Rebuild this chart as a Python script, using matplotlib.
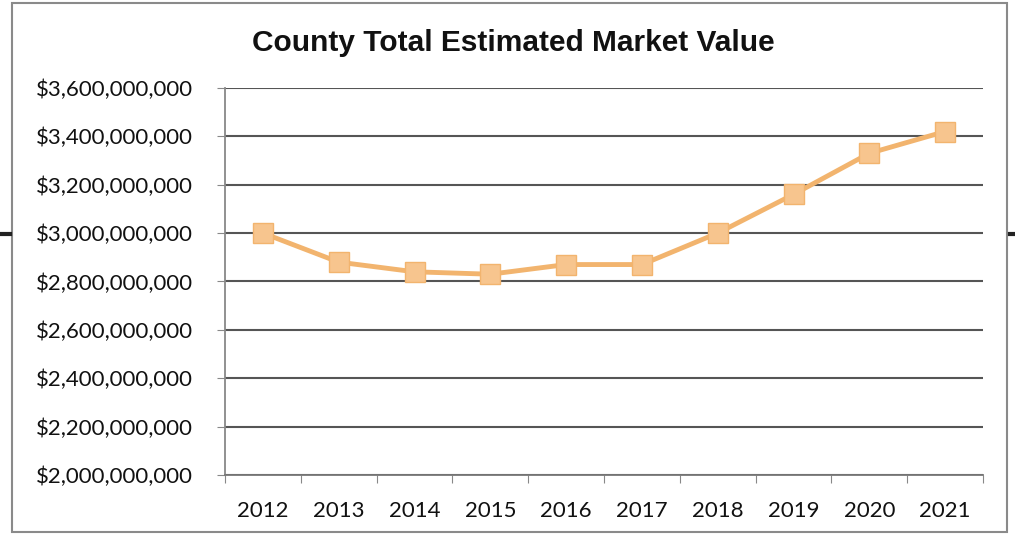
import numpy as np
import matplotlib.pyplot as plt
from matplotlib.patches import Rectangle
from matplotlib.ticker import FuncFormatter, MultipleLocator

# valeurs estimees du marche, par annee
years = ["2012", "2013", "2014", "2015", "2016", "2017", "2018", "2019", "2020", "2021"]
market_value = [3.00e9, 2.88e9, 2.84e9, 2.83e9, 2.87e9, 2.87e9, 3.00e9, 3.16e9, 3.33e9, 3.42e9]

fig = plt.figure(figsize=(10.15, 5.4), dpi=100)
ax = fig.add_axes([0.2217, 0.1204, 0.7468, 0.7167])

x = np.arange(len(years))
ax.plot(x, market_value, color="#F2B46E", lw=3.5, zorder=3,
        marker="s", markersize=14, markerfacecolor="#F7C58E",
        markeredgecolor="#F2B46E", markeredgewidth=1)

# axe Y : 2 a 3.6 milliards, pas de 200 millions
ax.set_ylim(2.0e9, 3.6e9)
ax.yaxis.set_major_locator(MultipleLocator(2e8))
ax.yaxis.set_major_formatter(FuncFormatter(lambda v, p: "${:,.0f}".format(v)))
ax.grid(axis="y", color="#555555", lw=1.5)
ax.set_axisbelow(True)

# axe X : categories, graduations entre les annees
ax.set_xlim(-0.5, len(years) - 0.5)
ax.set_xticks(np.arange(-0.5, len(years)), minor=False)
ax.set_xticklabels([])
ax.set_xticks(x, minor=True)
ax.set_xticklabels(years, minor=True)
ax.tick_params(axis="x", which="major", length=6, color="#888888", direction="out")
ax.tick_params(axis="x", which="minor", length=0, pad=19)
ax.tick_params(axis="y", length=6, color="#888888", pad=17)

for lab in ax.get_xticklabels(minor=True) + ax.get_yticklabels():
    lab.set_fontfamily("Lato")
    lab.set_fontsize(16)
    lab.set_color("#111111")

for side in ["top", "right"]:
    ax.spines[side].set_visible(False)
ax.spines["left"].set_color("#888888")
ax.spines["bottom"].set_color("#777777")
ax.spines["left"].set_linewidth(1.3)
ax.spines["bottom"].set_linewidth(1.3)

fig.text(0.506, 0.92, "County Total Estimated Market Value", ha="center", va="center",
         fontsize=21.5, fontweight="bold", family="Liberation Sans", color="#111111")

# cadre du graphique
fig.patches.append(Rectangle((0.012, 0.014), 0.98, 0.98, transform=fig.transFigure,
                             fill=False, ec="#8a8a8a", lw=1.5))
# petits traits noirs sur les bords
fig.add_artist(plt.Line2D([0.0, 0.01], [0.566, 0.566], color="#222222", lw=3))
fig.add_artist(plt.Line2D([0.995, 1.0], [0.566, 0.566], color="#222222", lw=3))

fig.savefig("out.png", dpi=100, facecolor="white")
